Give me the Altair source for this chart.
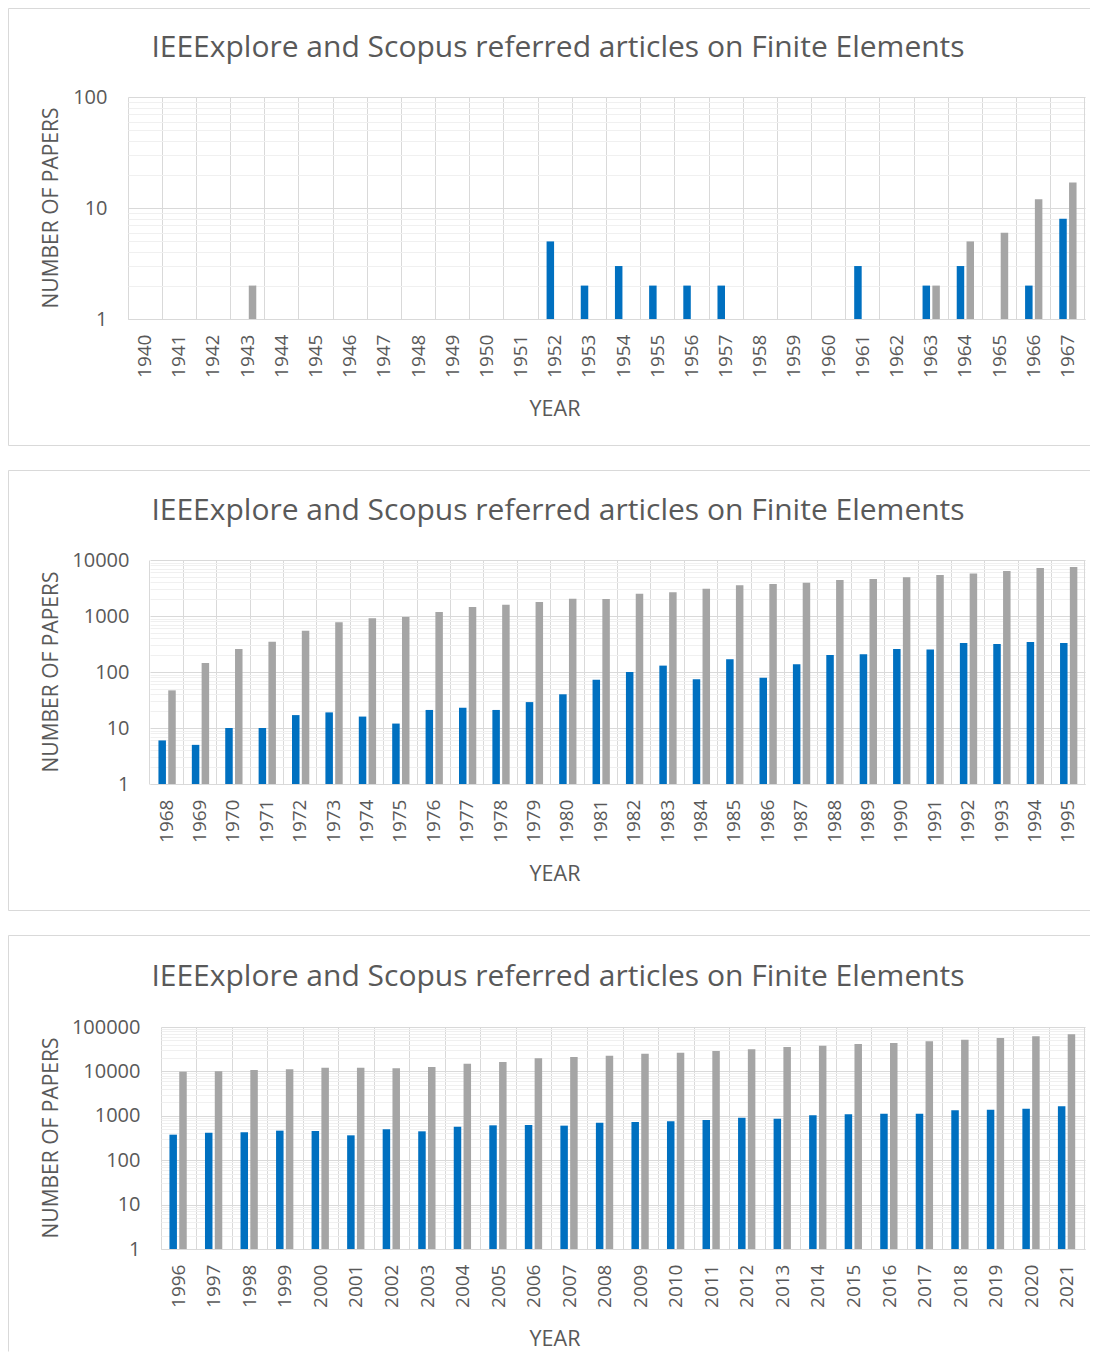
import altair as alt
import pandas as pd

TITLE = "IEEExplore and Scopus referred articles on Finite Elements"
SERIES = ["IEEEXplore", "Scopus"]
COLORS = ["#0070C0", "#A5A5A5"]

years1 = [str(y) for y in range(1940, 1968)]
blue1 = [None, None, None, None, None, None, None, None, None, None, None, None,
         5, 2, 3, 2, 2, 2, None, None, None, 3, None, 2, 3, None, 2, 8]
gray1 = [None, None, None, 2, None, None, None, None, None, None, None, None,
         None, None, None, None, None, None, None, None, None, None, None, 2, 5, 6, 12, 17]

years2 = [str(y) for y in range(1968, 1996)]
blue2 = [6, 5, 10, 10, 17, 19, 16, 12, 21, 23, 21, 29, 40, 73, 100, 130, 74, 169,
         79, 138, 202, 208, 258, 251, 330, 317, 344, 330]
gray2 = [47, 145, 258, 348, 547, 772, 910, 960, 1178, 1445, 1590, 1775, 2032, 2010,
         2500, 2645, 3070, 3525, 3720, 3925, 4385, 4570, 4895, 5380, 5765, 6340, 7180, 7470]

years3 = [str(y) for y in range(1996, 2022)]
blue3 = [376, 417, 424, 463, 455, 363, 496, 447, 569, 610, 621, 600, 700, 725, 750,
         804, 907, 861, 1024, 1079, 1117, 1117, 1328, 1374, 1447, 1633]
gray3 = [9860, 10040, 10760, 11140, 12140, 12140, 11720, 12560, 14930, 16280, 19690,
         21090, 22610, 25070, 26400, 28800, 31400, 35450, 38000, 41400, 43600, 47560,
         51850, 56500, 61600, 68400]

TXT = "#595959"
GRID = "#d9d9d9"
MINOR = "#f0f0f0"
NUMFONT = "Open Sans"
TFONT = "Open Sans"

ORIGIN = 128      # common group origin (page x) for all panels
GROUP_W = 957     # group width: plot right edge at page x 1085


def panel(years, blue, gray, ymax, plot_left, top, height, frame_top, frame_bottom,
          title_y, year_y, last=False):
    rows = []
    for y, b, g in zip(years, blue, gray):
        if b is not None:
            rows.append({"year": y, "series": SERIES[0], "value": b})
        if g is not None:
            rows.append({"year": y, "series": SERIES[1], "value": g})
    df = pd.DataFrame(rows)

    r0 = plot_left - ORIGIN
    step = (GROUP_W - r0) / len(years)
    d, w = 9.8, 7.5
    pi = 1 - w / d
    po = (step / d - 2 + pi) / 2

    decades = []
    v = 1
    while v <= ymax:
        decades.append(v)
        v *= 10
    tickvals = []
    for dd in decades:
        if dd == ymax:
            tickvals.append(dd)
        else:
            tickvals += [dd * k for k in range(1, 10)]
    dec_str = "[" + ",".join(str(x) for x in decades) + "]"

    bars = alt.Chart(df).mark_bar().encode(
        x=alt.X("year:N",
                scale=alt.Scale(domain=years, paddingInner=0, paddingOuter=0,
                                range=[r0, GROUP_W]),
                axis=alt.Axis(title=None, labelAngle=270, labelAlign="right",
                              labelBaseline="middle",
                              bandPosition=0, ticks=False, domainColor=GRID,
                              gridColor=GRID, grid=True, labelPadding=15,
                              labelFont=NUMFONT, labelFontSize=19, labelColor=TXT,
                              labelOverlap=False, labelFlush=False)),
        xOffset=alt.XOffset("series:N", scale=alt.Scale(domain=SERIES, paddingInner=pi,
                                                        paddingOuter=po)),
        y=alt.Y("value:Q", stack=None,
                scale=alt.Scale(type="log", domain=[1, ymax], nice=False),
                axis=alt.Axis(title=None, values=tickvals, ticks=False, domain=False,
                              grid=True, offset=-r0,
                              gridColor={"condition": {"test": "indexof(" + dec_str + ", datum.value) >= 0",
                                                       "value": GRID}, "value": MINOR},
                              labelExpr="indexof(" + dec_str + ", datum.value) >= 0 ? format(datum.value, 'd') : ''",
                              labelPadding=21, labelFont=NUMFONT, labelFontSize=20,
                              labelColor=TXT, labelOverlap=False, labelFlush=False,
                              labelBaseline="middle")),
        color=alt.Color("series:N", scale=alt.Scale(domain=SERIES, range=COLORS), legend=None),
    )

    title = alt.Chart(pd.DataFrame({"t": [TITLE]})).mark_text(
        font=TFONT, fontSize=30, color=TXT).encode(
        text="t:N", x=alt.value(558 - ORIGIN), y=alt.value(title_y - top))
    ytitle = alt.Chart(pd.DataFrame({"t": ["NUMBER OF PAPERS"]})).mark_text(
        font=NUMFONT, fontSize=21, color=TXT, angle=270).encode(
        text="t:N", x=alt.value(52 - ORIGIN), y=alt.value(height / 2))
    xtitle = alt.Chart(pd.DataFrame({"t": ["YEAR"]})).mark_text(
        font=TFONT, fontSize=21.5, color=TXT).encode(
        text="t:N", x=alt.value(555 - ORIGIN), y=alt.value(year_y - top))

    fdf = pd.DataFrame({"a": [0]})
    right_edge = alt.Chart(fdf).mark_rule(color=GRID, strokeWidth=1).encode(
        x=alt.value(GROUP_W - 0.5), y=alt.value(0), y2=alt.value(height))

    fl = 8 - ORIGIN + 0.5
    fr = 1090 - ORIGIN
    ft = frame_top - top + 0.5
    fb = frame_bottom - top - 0.5
    top_frame = alt.Chart(fdf).mark_rule(color=GRID, strokeWidth=1).encode(
        x=alt.value(fl), x2=alt.value(fr), y=alt.value(ft))
    left_frame = alt.Chart(fdf).mark_rule(color=GRID, strokeWidth=1).encode(
        x=alt.value(fl), y=alt.value(ft), y2=alt.value(fb))
    layers = [bars, right_edge, title, ytitle, xtitle, top_frame, left_frame]
    if not last:
        bot_frame = alt.Chart(fdf).mark_rule(color=GRID, strokeWidth=1).encode(
            x=alt.value(fl), x2=alt.value(fr), y=alt.value(fb))
        layers.append(bot_frame)
    return alt.layer(*layers).properties(width=GROUP_W, height=height)


p1 = panel(years1, blue1, gray1, 100, 128, 97, 222, 8, 446, 48, 410)
p2 = panel(years2, blue2, gray2, 10000, 150, 560, 224, 470, 911, 511, 875)
p3 = panel(years3, blue3, gray3, 100000, 161, 1027, 222, 935, 1352, 977, 1340, last=True)

chart = alt.vconcat(p1, p2, p3, spacing=24).configure_view(stroke=None).properties(
    padding=0, background="white")

chart.save("out.html", embed_options={"renderer": "svg", "actions": False})
